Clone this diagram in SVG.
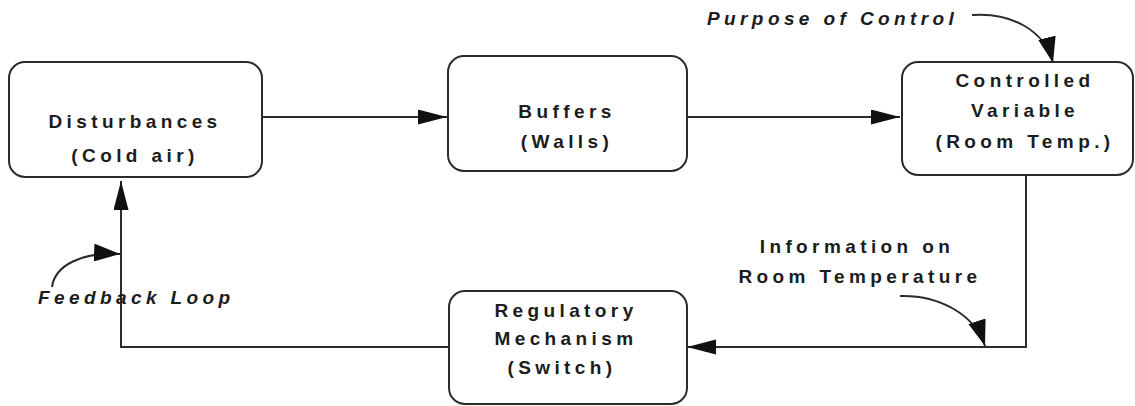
<svg xmlns="http://www.w3.org/2000/svg" width="1135" height="406" viewBox="0 0 1135 406">
  <style>
    .box { fill: #ffffff; stroke: #2b2b2b; stroke-width: 2; }
    .wire { fill: none; stroke: #2b2b2b; stroke-width: 2; }
    .lbl { font-family: "Liberation Sans", Arial, sans-serif; font-size: 19px; font-weight: bold; fill: #1c1c1c; letter-spacing: 4.4px; }
    .mid { text-anchor: middle; }
    .note { font-style: italic; }
  </style>
  <defs>
    <marker id="head" markerUnits="userSpaceOnUse" markerWidth="30" markerHeight="16" refX="29" refY="7.5" orient="auto">
      <path d="M0,0 L29,7.5 L0,15 Z" fill="#111"/>
    </marker>
    <marker id="headC" markerUnits="userSpaceOnUse" markerWidth="28" markerHeight="20" refX="26" refY="9" orient="auto">
      <path d="M0,0 L26,9 L0,18 Z" fill="#111"/>
    </marker>
  </defs>

  <rect width="1135" height="406" fill="#ffffff"/>

  <!-- connectors -->
  <g id="connectors">
    <path class="wire" d="M262,117 H447" marker-end="url(#head)"/>
    <path class="wire" d="M687,117 H900" marker-end="url(#head)"/>
    <path class="wire" d="M1026,175 V347 H687" marker-end="url(#head)"/>
    <path class="wire" d="M449,347 H121 V181" marker-end="url(#head)"/>
    <!-- annotation pointers -->
    <path class="wire" d="M972,15 C1010,12 1045,30 1053,63" marker-end="url(#headC)"/>
    <path class="wire" d="M900,296 C940,295 975,315 985,346" marker-end="url(#headC)"/>
    <path class="wire" d="M52,287 C55,265 82,252 120,254" marker-end="url(#headC)"/>
  </g>

  <g id="disturbances">
    <rect class="box" x="9" y="62" width="253" height="115" rx="16"/>
    <text class="lbl mid" x="135" y="128">Disturbances</text>
    <text class="lbl mid" x="135" y="162">(Cold air)</text>
  </g>

  <g id="buffers">
    <rect class="box" x="448" y="56" width="239" height="115" rx="16"/>
    <text class="lbl mid" x="567" y="118">Buffers</text>
    <text class="lbl mid" x="567" y="148">(Walls)</text>
  </g>

  <g id="controlled-variable">
    <rect class="box" x="902" y="62" width="231" height="113" rx="16"/>
    <text class="lbl mid" x="1025" y="87">Controlled</text>
    <text class="lbl mid" x="1025" y="117">Variable</text>
    <text class="lbl mid" x="1025" y="148">(Room Temp.)</text>
  </g>

  <g id="regulatory-mechanism">
    <rect class="box" x="449" y="291" width="238" height="113" rx="16"/>
    <text class="lbl mid" x="566" y="317">Regulatory</text>
    <text class="lbl mid" x="566" y="345">Mechanism</text>
    <text class="lbl mid" x="562" y="374">(Switch)</text>
  </g>

  <g id="annotations">
    <text class="lbl note" x="707" y="25">Purpose of Control</text>
    <text class="lbl mid" x="857" y="253">Information on</text>
    <text class="lbl mid" x="860" y="283">Room Temperature</text>
    <text class="lbl note" x="38" y="304">Feedback Loop</text>
  </g>
</svg>
